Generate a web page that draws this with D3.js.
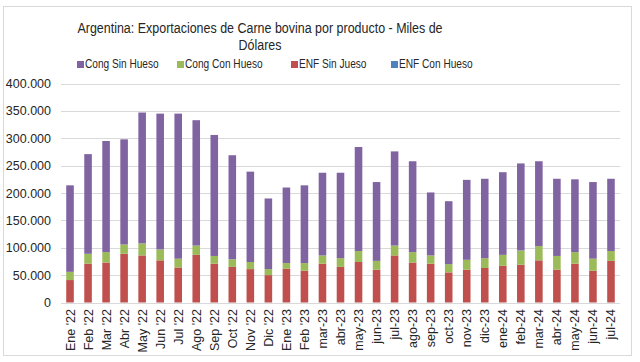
<!DOCTYPE html>
<html lang="es">
<head>
<meta charset="utf-8">
<title>Exportaciones de Carne bovina</title>
<style>
body {
  margin: 0;
  background: #fff;
  font-family: "Liberation Sans", Arial, sans-serif;
}
svg text {
  fill: #262626;
}
</style>
</head>
<body>
<div id="chart"></div>
<script src="https://cdn.jsdelivr.net/npm/d3@7/dist/d3.min.js"></script>
<script>

var months = ["Ene '22", "Feb '22", "Mar '22", "Abr '22", "May '22", "Jun '22", "Jul '22",
  "Ago '22", "Sep '22", "Oct '22", "Nov '22", "Dic '22", "Ene '23", "Feb '23",
  "mar-23", "abr-23", "may-23", "jun-23", "jul-23", "ago-23", "sep-23", "oct-23",
  "nov-23", "dic-23", "ene-24", "feb-24", "mar-24", "abr-24", "may-24", "jun-24", "jul-24"];

// miles de dolares
var enfConHueso = [0, 0, 0, 0, 0, 0, 0, 0, 0, 0, 0, 0, 0, 0, 0, 0, 0, 0, 0, 0, 0, 0,
  0, 0, 0, 0, 0, 0, 0, 0, 0];
var enfSinHueso = [41000, 71000, 73000, 89000, 86000, 77000, 64000, 87000, 71000, 65000,
  61000, 50000, 62000, 58000, 71000, 65000, 74000, 60000, 86000, 73000, 71000, 55000,
  60000, 63000, 67000, 69000, 77000, 60000, 71000, 58000, 76000];
var congConHueso = [15000, 18000, 19000, 17000, 22000, 20000, 16000, 17000, 14000, 14000,
  13000, 11000, 10000, 14000, 15000, 16000, 20000, 16000, 18000, 19000, 15000, 15000,
  18000, 18000, 20000, 26000, 26000, 25000, 21000, 22000, 18000];
var congSinHueso = [158000, 182000, 203000, 192000, 239000, 248000, 265000, 229000, 221000, 190000,
  165000, 129000, 138000, 142000, 151000, 156000, 190000, 144000, 172000, 166000, 115000, 115000,
  146000, 145000, 151000, 159000, 155000, 141000, 133000, 140000, 132000];

var yTicks = [0, 50000, 100000, 150000, 200000, 250000, 300000, 350000, 400000];

var seriesNames = ["ENF Con Hueso", "ENF Sin Jueso", "Cong Con Hueso", "Cong Sin Hueso"];
var seriesValues = [enfConHueso, enfSinHueso, congConHueso, congSinHueso];
var colors = ["#4F81BD", "#C0504D", "#9BBB59", "#8064A2"];
var legendOrder = [3, 2, 1, 0];

var width = 640, height = 362;
var margin = {top: 83, right: 20, bottom: 60, left: 61};

var svg = d3.select("#chart").append("svg")
  .attr("width", width)
  .attr("height", height);

// chart border
svg.append("rect")
  .attr("x", 3.5).attr("y", 6.5)
  .attr("width", 628).attr("height", 349)
  .attr("fill", "none")
  .attr("stroke", "#d9d9d9");

var rows = months.map(function(m, i) {
  var r = {month: m};
  seriesNames.forEach(function(s, j) { r[s] = seriesValues[j][i]; });
  return r;
});

var stacked = d3.stack().keys(seriesNames)(rows);

var x = d3.scaleBand()
  .domain(months)
  .range([margin.left, 620])
  .paddingInner(0.58)
  .paddingOuter(0.29);

var y = d3.scaleLinear()
  .domain([0, 400000])
  .range([302.5, 83.5]);

var fmt = function(d) { return d3.format(",")(d).replace(/,/g, "."); };

// gridlines
svg.append("g")
  .selectAll("line")
  .data(yTicks)
  .enter().append("line")
  .attr("x1", margin.left).attr("x2", 620)
  .attr("y1", function(d) { return Math.round(y(d)) + 0.5; })
  .attr("y2", function(d) { return Math.round(y(d)) + 0.5; })
  .attr("stroke", "#d9d9d9");

// y labels
svg.append("g")
  .selectAll("text")
  .data(yTicks)
  .enter().append("text")
  .attr("x", 51)
  .attr("y", function(d) { return y(d) + 4.5; })
  .attr("text-anchor", "end")
  .style("font-size", "12.5px")
  .text(fmt);

// bars
svg.append("g")
  .selectAll("g")
  .data(stacked)
  .enter().append("g")
  .attr("fill", function(d, i) { return colors[i]; })
  .selectAll("rect")
  .data(function(d) { return d; })
  .enter().append("rect")
  .attr("x", function(d) { return x(d.data.month); })
  .attr("width", x.bandwidth())
  .attr("y", function(d) { return y(d[1]); })
  .attr("height", function(d) { return y(d[0]) - y(d[1]); });

// x labels
svg.append("g")
  .selectAll("text")
  .data(months)
  .enter().append("text")
  .attr("transform", function(d) {
    return "translate(" + (x(d) + x.bandwidth() / 2 + 4.5) + ",309) rotate(-90)";
  })
  .attr("text-anchor", "end")
  .style("font-size", "12.5px")
  .text(function(d) { return d; });

// title (narrower than the font, so squeeze it)
var title = svg.append("g")
  .attr("transform", "translate(260,0) scale(0.86,1)")
  .append("text")
  .attr("text-anchor", "middle")
  .style("font-size", "14.5px");
title.append("tspan").attr("x", 0).attr("y", 33)
  .text("Argentina: Exportaciones de Carne bovina por producto - Miles de");
title.append("tspan").attr("x", 0).attr("y", 50).text("Dólares");

// legend
var legendX = [77, 177, 291, 391];
var legend = svg.append("g")
  .selectAll("g")
  .data(legendOrder)
  .enter().append("g")
  .attr("transform", function(d, i) { return "translate(" + legendX[i] + ",64)"; });

legend.append("rect")
  .attr("x", 0).attr("y", -3)
  .attr("width", 7).attr("height", 7)
  .attr("fill", function(d) { return colors[d]; });

legend.append("text")
  .attr("transform", "translate(8,4) scale(0.81,1)")
  .style("font-size", "12.5px")
  .text(function(d) { return seriesNames[d]; });

</script>
</body>
</html>
